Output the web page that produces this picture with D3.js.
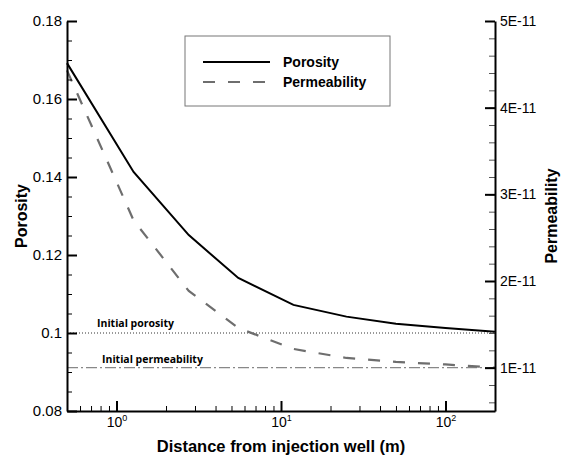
<!DOCTYPE html>
<html>
<head>
<meta charset="utf-8">
<script src="https://cdn.jsdelivr.net/npm/d3@7"></script>
<style>
  body { margin: 0; background: #fff; }
  svg { display: block; font-family: "Liberation Sans", Arial, sans-serif; }
</style>
</head>
<body>
<script>
// values
const distance = [0.5, 1.27, 2.75, 5.5, 11.9, 25, 50, 100, 200];
const porosity = [0.1692, 0.1413, 0.1251, 0.1141, 0.1072, 0.1042, 0.1024, 0.1013, 0.1003];
const permeability = [4.43e-11, 2.70e-11, 1.885e-11, 1.458e-11, 1.216e-11, 1.112e-11, 1.066e-11, 1.037e-11, 1.0e-11];

const porTicks = [0.08, 0.1, 0.12, 0.14, 0.16, 0.18];
const porTickLabels = ['0.08', '0.1', '0.12', '0.14', '0.16', '0.18'];
const permTicks = [1e-11, 2e-11, 3e-11, 4e-11, 5e-11];
const permTickLabels = ['1E-11', '2E-11', '3E-11', '4E-11', '5E-11'];
const xTicks = [1, 10, 100];
const xTickExp = ['0', '1', '2'];

const initPorosity = 0.1;
const initPermeability = 1e-11;

const width = 561, height = 456;
const margin = {top: 21, right: 66, bottom: 45, left: 67};

const svg = d3.select('body').append('svg')
  .attr('width', width)
  .attr('height', height);

// scales
const x = d3.scaleLog().domain([0.5, 200]).range([margin.left, width - margin.right]);
const yPor = d3.scaleLinear().domain([0.08, 0.18]).range([height - margin.bottom, margin.top]);
const yPerm = d3.scaleLinear().domain([0.5e-11, 5e-11]).range([height - margin.bottom, margin.top]);

// reference lines
svg.append('line')
  .attr('x1', x(0.5)).attr('x2', x(200))
  .attr('y1', yPor(initPorosity)).attr('y2', yPor(initPorosity))
  .attr('stroke', '#333').attr('stroke-width', 1)
  .attr('stroke-dasharray', '1,2');

svg.append('line')
  .attr('x1', x(0.5)).attr('x2', x(200))
  .attr('y1', yPerm(initPermeability)).attr('y2', yPerm(initPermeability))
  .attr('stroke', '#888').attr('stroke-width', 1.2)
  .attr('stroke-dasharray', '11,3,2,3');

svg.append('text')
  .attr('x', 97).attr('y', yPor(initPorosity) - 6)
  .attr('font-family', '"Open Sans", sans-serif')
  .attr('font-weight', 'bold').attr('font-size', 10.5)
  .text('Initial porosity');

svg.append('text')
  .attr('x', 102).attr('y', yPerm(initPermeability) - 5)
  .attr('font-family', '"Open Sans", sans-serif')
  .attr('font-weight', 'bold').attr('font-size', 10.5)
  .text('Initial permeability');

// curves
const porLine = d3.line()
  .x((d, i) => x(distance[i]))
  .y(d => yPor(d));
const permLine = d3.line()
  .x((d, i) => x(distance[i]))
  .y(d => yPerm(d));

svg.append('path')
  .datum(permeability)
  .attr('d', permLine)
  .attr('fill', 'none')
  .attr('stroke', '#6e6e6e')
  .attr('stroke-width', 2.2)
  .attr('stroke-dasharray', '12,13');

svg.append('path')
  .datum(porosity)
  .attr('d', porLine)
  .attr('fill', 'none')
  .attr('stroke', '#000')
  .attr('stroke-width', 2);

// axes
function styleAxis(g, w) {
  g.select('.domain').attr('stroke', '#000').attr('stroke-width', w);
  g.selectAll('.tick line').attr('stroke', '#000');
}

// left
const leftMinor = svg.append('g')
  .attr('transform', `translate(${margin.left},0)`)
  .call(d3.axisLeft(yPor).tickValues(d3.range(0.08, 0.1801, 0.005)).tickSizeInner(-5).tickSizeOuter(0).tickFormat(''));
leftMinor.select('.domain').remove();
leftMinor.selectAll('.tick line').attr('stroke', '#000').attr('stroke-width', 1);

const leftAxis = svg.append('g')
  .attr('transform', `translate(${margin.left},0)`)
  .call(d3.axisLeft(yPor).tickValues(porTicks).tickSizeInner(-10).tickSizeOuter(0).tickPadding(5)
    .tickFormat((d, i) => porTickLabels[i]));
styleAxis(leftAxis, 2);
leftAxis.selectAll('.tick line').attr('stroke-width', 2);
leftAxis.selectAll('text').attr('font-size', 15).attr('fill', '#000')
  .attr('font-family', '"Liberation Sans", Arial, sans-serif');

// right
const rightMinor = svg.append('g')
  .attr('transform', `translate(${width - margin.right},0)`)
  .call(d3.axisRight(yPerm).tickValues(d3.range(6e-12, 5.01e-11, 2e-12)).tickSizeInner(-6).tickSizeOuter(0).tickFormat(''));
rightMinor.select('.domain').remove();
rightMinor.selectAll('.tick line').attr('stroke', '#555').attr('stroke-width', 1);

const rightAxis = svg.append('g')
  .attr('transform', `translate(${width - margin.right},0)`)
  .call(d3.axisRight(yPerm).tickValues(permTicks).tickSizeInner(-10).tickSizeOuter(0).tickPadding(5)
    .tickFormat((d, i) => permTickLabels[i]));
styleAxis(rightAxis, 2);
rightAxis.selectAll('.tick line').attr('stroke-width', 2);
rightAxis.selectAll('text').attr('font-size', 14).attr('fill', '#000')
  .attr('font-family', '"Liberation Sans", Arial, sans-serif');

// bottom
const xMinorVals = [];
[0.1, 1, 10, 100].forEach(dec => {
  for (let k = 2; k <= 9; k++) {
    const v = dec * k;
    if (v >= 0.5 && v <= 200 && !xTicks.includes(v)) xMinorVals.push(v);
  }
});
const bottomMinor = svg.append('g')
  .attr('transform', `translate(0,${height - margin.bottom})`)
  .call(d3.axisBottom(x).tickValues(xMinorVals).tickSizeInner(-5).tickSizeOuter(0).tickFormat(''));
bottomMinor.select('.domain').remove();
bottomMinor.selectAll('.tick line').attr('stroke', '#000').attr('stroke-width', 1);

const bottomAxis = svg.append('g')
  .attr('transform', `translate(0,${height - margin.bottom})`)
  .call(d3.axisBottom(x).tickValues(xTicks).tickSizeInner(-10).tickSizeOuter(0).tickPadding(5).tickFormat(''));
styleAxis(bottomAxis, 2);
bottomAxis.selectAll('.tick line').attr('stroke-width', 2);
bottomAxis.selectAll('.tick text').remove();
bottomAxis.selectAll('.tick').each(function(d, i) {
  const t = d3.select(this).append('text')
    .attr('fill', '#000')
    .attr('y', 16)
    .attr('text-anchor', 'middle')
    .attr('font-size', 14)
    .attr('font-family', '"Liberation Sans", Arial, sans-serif');
  t.append('tspan').text('10');
  t.append('tspan').attr('dy', -6).attr('font-size', 9).text(xTickExp[i]);
});

// axis titles
svg.append('text')
  .attr('x', (margin.left + width - margin.right) / 2)
  .attr('y', 452)
  .attr('text-anchor', 'middle')
  .attr('font-weight', 'bold')
  .attr('font-size', 16.5)
  .text('Distance from injection well (m)');

svg.append('text')
  .attr('transform', `translate(27,${(margin.top + height - margin.bottom) / 2}) rotate(-90)`)
  .attr('text-anchor', 'middle')
  .attr('font-weight', 'bold')
  .attr('font-size', 16)
  .text('Porosity');

svg.append('text')
  .attr('transform', `translate(557,${(margin.top + height - margin.bottom) / 2}) rotate(-90)`)
  .attr('text-anchor', 'middle')
  .attr('font-weight', 'bold')
  .attr('font-size', 16)
  .text('Permeability');

// legend
const legend = svg.append('g').attr('transform', 'translate(185,36)');
legend.append('rect')
  .attr('width', 205).attr('height', 70)
  .attr('fill', '#fff').attr('stroke', '#777').attr('stroke-width', 1);
const legendItems = [
  {name: 'Porosity', color: '#000', dash: null, w: 2},
  {name: 'Permeability', color: '#6e6e6e', dash: '12,13', w: 2.2}
];
legendItems.forEach((d, i) => {
  const yy = 26 + i * 20;
  legend.append('line')
    .attr('x1', 18).attr('x2', 85).attr('y1', yy).attr('y2', yy)
    .attr('stroke', d.color).attr('stroke-width', d.w)
    .attr('stroke-dasharray', d.dash);
  legend.append('text')
    .attr('x', 98).attr('y', yy + 5)
    .attr('font-weight', 'bold').attr('font-size', 14)
    .text(d.name);
});
</script>
</body>
</html>
